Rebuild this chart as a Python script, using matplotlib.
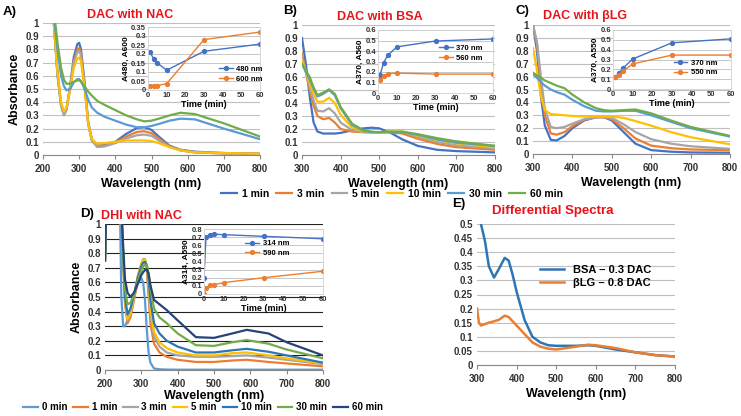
import matplotlib
matplotlib.use("Agg")
import matplotlib.pyplot as plt
from matplotlib.ticker import FuncFormatter

plt.rcParams['font.family'] = ['Liberation Sans', 'DejaVu Sans']
plt.rcParams['font.weight'] = 'bold'

# ---- data ----
times = ['1 min', '3 min', '5 min', '10 min', '30 min', '60 min']
cols = ['#4472C4', '#ED7D31', '#A5A5A5', '#FFC000', '#5B9BD5', '#70AD47']

# A) DAC with NAC
wl_a = [220, 230, 240, 250, 258, 265, 275, 285, 295, 300, 305, 315, 325, 335, 350,
        370, 400, 430, 460, 480, 500, 520, 550, 580, 620, 700, 800]
abs_a = [
    [1.3, 1.0, 0.62, 0.38, 0.31, 0.35, 0.52, 0.74, 0.84, 0.85, 0.80, 0.55, 0.25, 0.12, 0.07,
     0.075, 0.10, 0.16, 0.205, 0.21, 0.19, 0.14, 0.07, 0.04, 0.025, 0.015, 0.01],
    [1.3, 1.0, 0.62, 0.38, 0.31, 0.35, 0.51, 0.71, 0.80, 0.81, 0.77, 0.53, 0.24, 0.11, 0.065,
     0.07, 0.095, 0.14, 0.175, 0.18, 0.165, 0.125, 0.065, 0.035, 0.02, 0.012, 0.008],
    [1.3, 1.0, 0.60, 0.37, 0.30, 0.34, 0.50, 0.70, 0.78, 0.79, 0.75, 0.52, 0.23, 0.11, 0.06,
     0.065, 0.09, 0.125, 0.15, 0.155, 0.145, 0.11, 0.06, 0.035, 0.02, 0.012, 0.008],
    [1.3, 1.0, 0.63, 0.40, 0.33, 0.36, 0.50, 0.66, 0.73, 0.74, 0.71, 0.50, 0.24, 0.12, 0.085,
     0.09, 0.10, 0.11, 0.11, 0.11, 0.105, 0.09, 0.06, 0.035, 0.02, 0.015, 0.01],
    [1.3, 1.05, 0.8, 0.6, 0.52, 0.49, 0.50, 0.55, 0.575, 0.575, 0.56, 0.50, 0.42, 0.36, 0.32,
     0.29, 0.26, 0.23, 0.21, 0.21, 0.22, 0.235, 0.26, 0.275, 0.27, 0.20, 0.12],
    [1.3, 1.1, 0.85, 0.66, 0.57, 0.54, 0.54, 0.555, 0.565, 0.565, 0.555, 0.52, 0.48, 0.45, 0.41,
     0.38, 0.34, 0.30, 0.27, 0.255, 0.26, 0.275, 0.30, 0.32, 0.31, 0.24, 0.14],
]
t_a = [1, 3, 5, 10, 30, 60]
a480 = [0.21, 0.175, 0.15, 0.11, 0.215, 0.255]
a600 = [0.025, 0.025, 0.025, 0.035, 0.28, 0.322]

# B) DAC with BSA
wl_b = [300, 310, 320, 330, 340, 355, 370, 385, 400, 430, 460, 480, 500, 530, 560, 600, 650, 700, 800]
abs_b = [
    [0.9, 0.7, 0.45, 0.25, 0.18, 0.165, 0.165, 0.165, 0.17, 0.19, 0.205, 0.21, 0.205, 0.17, 0.12, 0.07, 0.04, 0.03, 0.02],
    [0.78, 0.64, 0.5, 0.38, 0.3, 0.275, 0.285, 0.25, 0.2, 0.18, 0.175, 0.175, 0.175, 0.175, 0.165, 0.125, 0.085, 0.06, 0.04],
    [0.75, 0.64, 0.52, 0.42, 0.34, 0.335, 0.36, 0.32, 0.25, 0.19, 0.175, 0.175, 0.175, 0.18, 0.175, 0.14, 0.10, 0.075, 0.05],
    [0.73, 0.64, 0.55, 0.47, 0.41, 0.41, 0.44, 0.40, 0.31, 0.21, 0.18, 0.175, 0.175, 0.18, 0.18, 0.15, 0.115, 0.09, 0.06],
    [0.70, 0.64, 0.58, 0.51, 0.45, 0.47, 0.50, 0.46, 0.36, 0.23, 0.185, 0.175, 0.175, 0.175, 0.175, 0.155, 0.12, 0.095, 0.07],
    [0.70, 0.65, 0.60, 0.52, 0.46, 0.48, 0.505, 0.47, 0.37, 0.24, 0.19, 0.18, 0.175, 0.18, 0.18, 0.16, 0.13, 0.105, 0.07],
]
t_b = [1, 3, 5, 10, 30, 60]
b370 = [0.17, 0.29, 0.36, 0.44, 0.495, 0.515]
b560 = [0.12, 0.16, 0.185, 0.19, 0.18, 0.18]

# C) DAC with bLG
wl_c = [300, 310, 320, 330, 345, 360, 380, 400, 430, 460, 480, 500, 530, 560, 600, 650, 700, 800]
abs_c = [
    [1.0, 0.8, 0.45, 0.22, 0.11, 0.105, 0.14, 0.2, 0.26, 0.285, 0.285, 0.26, 0.17, 0.08, 0.03, 0.018, 0.012, 0.01],
    [1.0, 0.85, 0.55, 0.3, 0.16, 0.15, 0.17, 0.215, 0.265, 0.285, 0.285, 0.27, 0.2, 0.12, 0.065, 0.045, 0.035, 0.03],
    [1.0, 0.87, 0.6, 0.35, 0.21, 0.2, 0.21, 0.235, 0.27, 0.285, 0.29, 0.28, 0.23, 0.17, 0.115, 0.08, 0.06, 0.04],
    [0.82, 0.65, 0.45, 0.34, 0.31, 0.305, 0.30, 0.295, 0.29, 0.29, 0.29, 0.29, 0.28, 0.255, 0.22, 0.17, 0.13, 0.075],
    [0.62, 0.59, 0.56, 0.53, 0.50, 0.48, 0.46, 0.42, 0.37, 0.335, 0.33, 0.33, 0.335, 0.335, 0.30, 0.25, 0.20, 0.135],
    [0.63, 0.61, 0.59, 0.57, 0.55, 0.53, 0.51, 0.46, 0.40, 0.355, 0.34, 0.335, 0.34, 0.345, 0.315, 0.26, 0.21, 0.14],
]
t_c = [1, 3, 5, 10, 30, 60]
c370 = [0.12, 0.16, 0.21, 0.305, 0.47, 0.51]
c550 = [0.12, 0.145, 0.18, 0.255, 0.345, 0.345]

# D) DHI with NAC
times_d = ['0 min', '1 min', '3 min', '5 min', '10 min', '30 min', '60 min']
cols_d = ['#5B9BD5', '#ED7D31', '#A5A5A5', '#FFC000', '#2E75B6', '#70AD47', '#264478']
wl_d = [200, 205, 240, 245, 250, 255, 262, 270, 280, 290, 300, 305, 310, 315, 320, 325,
        335, 350, 370, 400, 450, 500, 550, 590, 650, 700, 800]
abs_d = [
    [0.75, 1.3, 1.3, 0.5, 0.30, 0.30, 0.34, 0.40, 0.50, 0.59, 0.63, 0.6, 0.48, 0.28, 0.12, 0.05,
     0.01, 0.005, 0.003, 0.002, 0.002, 0.002, 0.002, 0.002, 0.002, 0.002, 0.002],
    [0.75, 1.3, 1.3, 1.1, 0.75, 0.45, 0.32, 0.36, 0.48, 0.62, 0.72, 0.75, 0.75, 0.68, 0.50, 0.32,
     0.18, 0.12, 0.09, 0.07, 0.055, 0.055, 0.065, 0.07, 0.055, 0.045, 0.025],
    [0.75, 1.3, 1.3, 1.1, 0.76, 0.47, 0.34, 0.38, 0.50, 0.64, 0.73, 0.76, 0.76, 0.70, 0.55, 0.38,
     0.23, 0.16, 0.12, 0.10, 0.09, 0.09, 0.095, 0.10, 0.085, 0.07, 0.04],
    [0.75, 1.3, 1.3, 1.1, 0.77, 0.48, 0.35, 0.39, 0.51, 0.64, 0.73, 0.755, 0.755, 0.71, 0.58, 0.42,
     0.26, 0.19, 0.15, 0.12, 0.10, 0.10, 0.115, 0.12, 0.10, 0.08, 0.045],
    [0.75, 1.3, 1.3, 1.1, 0.78, 0.50, 0.38, 0.42, 0.52, 0.63, 0.71, 0.735, 0.74, 0.72, 0.62, 0.48,
     0.32, 0.25, 0.20, 0.16, 0.12, 0.12, 0.135, 0.145, 0.125, 0.10, 0.05],
    [0.75, 1.3, 1.3, 1.1, 0.80, 0.55, 0.45, 0.46, 0.52, 0.61, 0.68, 0.71, 0.72, 0.72, 0.66, 0.56,
     0.42, 0.36, 0.32, 0.25, 0.17, 0.165, 0.19, 0.205, 0.18, 0.14, 0.08],
    [0.75, 1.3, 1.3, 1.1, 0.85, 0.62, 0.53, 0.50, 0.53, 0.59, 0.65, 0.67, 0.685, 0.69, 0.66, 0.58,
     0.48, 0.45, 0.41, 0.34, 0.225, 0.22, 0.25, 0.275, 0.25, 0.19, 0.10],
]
t_d = [0, 1, 3, 5, 10, 30, 60]
d314 = [0.2, 0.70, 0.73, 0.735, 0.73, 0.71, 0.68]
d590 = [0.0, 0.07, 0.105, 0.115, 0.14, 0.2, 0.28]

# E) Differential spectra
wl_e = [300, 305, 310, 320, 330, 343, 355, 370, 380, 390, 400, 420, 440, 460, 480, 500,
        550, 580, 600, 650, 700, 750, 800]
bsa_diff = [0.6, 0.55, 0.5, 0.44, 0.35, 0.31, 0.34, 0.38, 0.37, 0.32, 0.26, 0.16, 0.10, 0.08,
            0.07, 0.068, 0.068, 0.07, 0.068, 0.055, 0.045, 0.035, 0.03]
blg_diff = [0.20, 0.15, 0.14, 0.145, 0.15, 0.155, 0.16, 0.175, 0.17, 0.155, 0.14, 0.11, 0.08,
            0.065, 0.058, 0.055, 0.065, 0.072, 0.07, 0.06, 0.045, 0.035, 0.03]

W, H = 741, 416
fig = plt.figure(figsize=(W / 100, H / 100), dpi=100)


def box(x0, x1, y0, y1):
    # pixel box -> figure fraction rect
    return [x0 / W, 1 - y1 / H, (x1 - x0) / W, (y1 - y0) / H]


fmt = FuncFormatter(lambda v, p: '%g' % round(v, 3))


def main_axes(rect, xlim, ylim, ystep, gridcol='#BFBFBF', xpad=3):
    ax = fig.add_axes(rect)
    ax.set_xlim(*xlim)
    ax.set_ylim(*ylim)
    ax.set_xticks(range(xlim[0], xlim[1] + 1, 100))
    n = int(round((ylim[1] - ylim[0]) / ystep))
    ax.set_yticks([ylim[0] + i * ystep for i in range(n + 1)])
    ax.yaxis.set_major_formatter(fmt)
    ax.grid(axis='y', color=gridcol, lw=0.8)
    ax.set_axisbelow(True)
    for s in ['top', 'right', 'left']:
        ax.spines[s].set_visible(False)
    ax.spines['bottom'].set_color('#888888')
    ax.tick_params(axis='y', length=0, labelsize=7, pad=3, colors='#333333')
    ax.tick_params(axis='x', length=3, labelsize=7, colors='#333333', color='#888888')
    ax.set_xlabel('Wavelength (nm)', fontsize=9, fontweight='bold', labelpad=xpad)
    return ax


def inset_axes(rect, ylim, ystep, ylabel):
    ax = fig.add_axes(rect)
    ax.set_facecolor('white')
    ax.set_xlim(0, 60)
    ax.set_ylim(*ylim)
    ax.set_xticks(range(0, 61, 10))
    n = int(round((ylim[1] - ylim[0]) / ystep))
    ax.set_yticks([ylim[0] + i * ystep for i in range(n + 1)])
    ax.yaxis.set_major_formatter(fmt)
    ax.grid(axis='y', color='#BFBFBF', lw=0.6)
    ax.set_axisbelow(True)
    for s in ax.spines.values():
        s.set_color('#D0D0D0')
        s.set_linewidth(0.6)
    ax.tick_params(length=0, labelsize=5.5, pad=1.5, colors='#333333')
    ax.set_xlabel('Time (min)', fontsize=6.5, fontweight='bold', labelpad=1)
    ax.set_ylabel(ylabel, fontsize=6, fontweight='bold', labelpad=1)
    return ax


def inset_series(ax, t, y1, y2, lab1, lab2, anchor):
    ax.plot(t, y1, color='#4472C4', lw=1, marker='o', ms=2.8, label=lab1)
    ax.plot(t, y2, color='#ED7D31', lw=1, marker='o', ms=2.8, label=lab2)
    ax.legend(loc='center', bbox_to_anchor=anchor, fontsize=5.5, frameon=False,
              handlelength=1.8, borderpad=0.1, labelspacing=0.3, handletextpad=0.5)


# ---- A ----
axA = main_axes(box(43, 260, 23, 155), (200, 800), (0, 1), 0.1)
for y, c, lab in zip(abs_a, cols, times):
    axA.plot(wl_a, y, color=c, lw=1.6, label=lab)
axA.set_ylabel('Absorbance', fontsize=9, fontweight='bold', labelpad=3)
insA = inset_axes(box(148, 260, 27, 90), (0, 0.35), 0.05, 'A480, A600')
inset_series(insA, t_a, a480, a600, '480 nm', '600 nm', (0.83, 0.25))

# ---- B ----
axB = main_axes(box(302, 495, 25, 155), (300, 800), (0, 1), 0.1)
for y, c in zip(abs_b, cols):
    axB.plot(wl_b, y, color=c, lw=1.6)
insB = inset_axes(box(378, 493, 30, 93), (0, 0.6), 0.1, 'A370, A560')
inset_series(insB, t_b, b370, b560, '370 nm', '560 nm', (0.72, 0.63))

# ---- C ----
axC = main_axes(box(533, 730, 25, 154), (300, 800), (0, 1), 0.1)
for y, c in zip(abs_c, cols):
    axC.plot(wl_c, y, color=c, lw=1.6)
insC = inset_axes(box(613, 731, 30, 89), (0, 0.6), 0.1, 'A370, A550')
inset_series(insC, t_c, c370, c550, '370 nm', '550 nm', (0.7, 0.36))

# ---- D ----
axD = main_axes(box(105, 323, 224, 370), (200, 800), (0, 1), 0.1, gridcol='#222222', xpad=1)
hd = []
for y, c, lab in zip(abs_d, cols_d, times_d):
    hd += axD.plot(wl_d, y, color=c, lw=1.6, label=lab)
axD.set_ylabel('Absorbance', fontsize=9, fontweight='bold', labelpad=3)
insD = inset_axes(box(204, 323, 229, 294), (0, 0.8), 0.1, 'A314, A590')
inset_series(insD, t_d, d314, d590, '314 nm', '590 nm', (0.53, 0.7))

# ---- E ----
axE = main_axes(box(477, 675, 224, 365), (300, 800), (0, 0.5), 0.05)
axE.plot(wl_e, bsa_diff, color='#2E75B6', lw=1.8, label='BSA – 0.3 DAC')
axE.plot(wl_e, blg_diff, color='#ED7D31', lw=1.8, label='βLG – 0.8 DAC')
axE.legend(loc='center', bbox_to_anchor=(0.6, 0.63), fontsize=8, frameon=False,
           handlelength=2.2, labelspacing=0.3)

# ---- legends ----
fig.legend(handles=axA.get_lines(), labels=times, loc='center', ncol=6,
           bbox_to_anchor=(392 / W, 1 - 194 / H), fontsize=7.5, frameon=False,
           handlelength=1.5, columnspacing=0.7, handletextpad=0.5)
fig.legend(handles=hd, labels=times_d, loc='center', ncol=7,
           bbox_to_anchor=(203 / W, 1 - 407 / H), fontsize=7, frameon=False,
           handlelength=1.5, columnspacing=0.6, handletextpad=0.4, borderpad=0.1)

# ---- titles ----
red = '#E8141B'
fig.text(3 / W, 1 - 12 / H, 'A)', fontsize=9.5, fontweight='bold', va='center')
fig.text(130 / W, 1 - 15 / H, 'DAC with NAC', color=red, fontsize=9, fontweight='bold',
         ha='center', va='center')
fig.text(283 / W, 1 - 11 / H, 'B)', fontsize=9.5, fontweight='bold', va='center')
fig.text(380 / W, 1 - 17 / H, 'DAC with BSA', color=red, fontsize=9, fontweight='bold',
         ha='center', va='center')
fig.text(515 / W, 1 - 11 / H, 'C)', fontsize=9.5, fontweight='bold', va='center')
fig.text(585 / W, 1 - 16 / H, 'DAC with βLG', color=red, fontsize=9, fontweight='bold',
         ha='center', va='center')
fig.text(80 / W, 1 - 214 / H, 'D)', fontsize=9.5, fontweight='bold', va='center')
fig.text(141 / W, 1 - 216 / H, 'DHI with NAC', color=red, fontsize=9, fontweight='bold',
         ha='center', va='center')
fig.text(452 / W, 1 - 204 / H, 'E)', fontsize=9.5, fontweight='bold', va='center')
fig.text(553 / W, 1 - 211 / H, 'Differential Spectra', color=red, fontsize=9.5,
         fontweight='bold', ha='center', va='center')

fig.savefig('out.png', dpi=100)
